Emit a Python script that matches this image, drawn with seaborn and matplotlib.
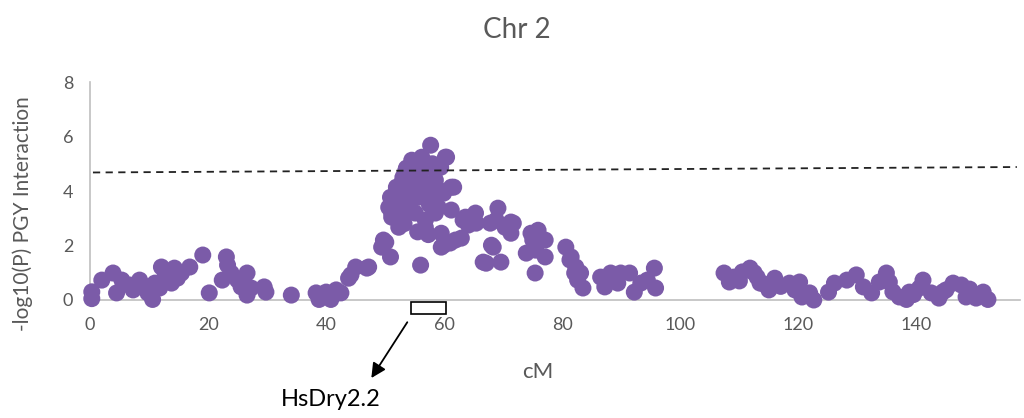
import matplotlib
matplotlib.use("Agg")
import matplotlib.pyplot as plt
from matplotlib.patches import Rectangle
import pandas as pd
import seaborn as sns

# ----------------------------
# Data (cM, -log10(P))
# ----------------------------
cm_left = [0.3, 0.3, 2.0, 3.9, 4.5, 5.4, 6.7, 7.3, 8.4, 9.3, 9.8, 10.6, 11.0, 11.8,
           12.1, 12.6, 13.5, 13.8, 14.3, 14.8, 15.5, 16.9, 19.1, 20.2, 22.4, 23.1,
           23.3, 23.9, 25.0, 25.6, 26.6, 26.6, 27.3, 29.5, 29.8, 34.1, 38.3, 38.8,
           40.0, 40.8, 41.7, 42.5, 43.8, 44.2, 45.0, 46.9, 47.2]
lod_left = [0.05, 0.3, 0.73, 0.99, 0.26, 0.73, 0.55, 0.37, 0.73, 0.48, 0.26, 0.02, 0.62, 0.44,
            1.21, 0.8, 0.99, 0.62, 1.17, 0.8, 0.99, 1.21, 1.65, 0.26, 0.73, 1.58,
            1.28, 0.99, 0.73, 0.48, 0.99, 0.18, 0.44, 0.48, 0.29, 0.18, 0.26, 0.02,
            0.29, 0.02, 0.37, 0.26, 0.8, 0.92, 1.21, 1.17, 1.21]

cm_peak = [49.4, 49.7, 50.1, 50.6, 50.9, 50.9, 51.1, 51.1, 51.8, 51.9, 52.3, 52.8, 52.8,
           53.5, 53.5, 53.6, 54.5, 54.5, 55.1, 55.1, 55.6, 56.0, 56.2, 56.8, 56.8, 56.8,
           57.0, 57.7, 57.8, 58.5, 58.5, 59.0, 59.4, 59.5, 59.5, 59.9, 59.9, 60.2, 60.4,
           61.0, 61.2, 61.2, 61.6, 61.9, 62.9, 63.2, 63.6, 64.1, 65.3, 65.4, 66.6, 67.1,
           67.8, 68.0, 68.3, 68.8, 69.1, 69.6, 70.3, 71.3, 71.3, 71.7, 73.9, 74.7, 75.0,
           75.4, 75.5, 75.9, 77.1, 77.1,
           53.0, 55.8, 58.0, 54.0, 57.5, 52.0, 56.2, 58.8, 53.2, 55.5, 57.3]
lod_peak = [1.94, 2.2, 2.12, 3.4, 1.58, 3.77, 3.04, 3.19, 3.66, 4.14, 2.67, 4.29, 3.04,
            4.76, 3.77, 4.84, 5.13, 4.14, 4.65, 3.19, 3.77, 1.28, 5.24, 4.29, 2.93, 2.67,
            4.87, 5.68, 3.77, 4.4, 3.19, 3.4, 4.87, 2.45, 1.94, 3.92, 2.01, 5.24, 5.24,
            2.09, 4.14, 3.3, 4.14, 2.2, 2.27, 2.93, 3.04, 2.75, 3.19, 2.82, 1.39, 1.35,
            2.82, 2.01, 1.94, 2.93, 3.37, 1.39, 2.67, 2.86, 2.45, 2.82, 1.72, 2.45, 2.2,
            0.99, 1.83, 2.56, 1.58, 2.2,
            4.5, 4.9, 5.0, 3.5, 3.5, 3.3, 4.0, 4.1, 2.8, 2.5, 2.4]

cm_right = [80.6, 81.3, 81.5, 82.1, 82.3, 82.6, 83.1, 83.5, 86.5, 87.2, 88.2, 89.4, 89.9,
            91.4, 92.2, 93.3, 94.4, 95.6, 95.8, 107.4, 108.3, 109.1, 110.5, 111.8, 113.0,
            113.5, 115.0, 115.9, 116.0, 118.5, 119.4, 120.2, 120.6, 121.9, 122.6, 125.1,
            126.1, 128.2, 129.8, 131.0, 132.4, 133.7, 134.9, 135.4, 137.1, 138.3, 138.8,
            140.5, 141.1, 142.5, 143.8, 145.0, 146.2, 147.6, 148.4, 150.1, 151.3, 152.1,
            110.0, 112.5, 114.0, 117.0, 136.0, 139.5, 144.5, 149.0]
lod_right = [1.94, 1.47, 1.58, 0.99, 1.21, 0.73, 0.99, 0.44, 0.84, 0.48, 0.99, 0.62, 0.99,
             0.99, 0.29, 0.62, 0.73, 1.17, 0.44, 0.99, 0.66, 0.84, 1.03, 1.17, 0.84,
             0.62, 0.37, 0.62, 0.8, 0.62, 0.37, 0.66, 0.11, 0.26, 0.0, 0.29,
             0.62, 0.73, 0.92, 0.48, 0.26, 0.66, 0.99, 0.66, 0.11, 0.02, 0.29,
             0.44, 0.73, 0.26, 0.07, 0.37, 0.62, 0.55, 0.11, 0.07, 0.29, 0.02,
             0.7, 1.0, 0.6, 0.5, 0.3, 0.2, 0.3, 0.4]

# significance threshold (slightly sloped in the original)
threshold_cm = [0.5, 157.0]
threshold_lod = [4.68, 4.88]

# QTL interval box
qtl_start, qtl_end = 54.3, 60.3
qtl_name = "HsDry2.2"

x_ticks = [0, 20, 40, 60, 80, 100, 120, 140]
y_ticks = [0, 2, 4, 6, 8]

df = pd.DataFrame({
    "cM": cm_left + cm_peak + cm_right,
    "lod": lod_left + lod_peak + lod_right,
})

# ----------------------------
# Plot
# ----------------------------
sns.set_style("white")
plt.rcParams["font.family"] = ["Lato", "DejaVu Sans"]

grey = "#595959"
purple = "#7B5BA8"

fig = plt.figure(figsize=(10.24, 4.18), dpi=100)
ax = fig.add_axes([0.0879, 0.2823, 0.908, 0.5215])

sns.scatterplot(data=df, x="cM", y="lod", ax=ax, color=purple, s=150,
                edgecolor="none", linewidth=0, legend=False, clip_on=False, zorder=3)

ax.plot(threshold_cm, threshold_lod, color="#222222", lw=1.3, ls=(0, (4, 3)),
        zorder=4)

ax.set_xlim(0, 157.5)
ax.set_ylim(0, 8)
ax.set_xticks(x_ticks)
ax.set_yticks(y_ticks)
ax.tick_params(axis="both", length=0, labelsize=13, colors=grey)
ax.tick_params(axis="x", pad=12)
ax.tick_params(axis="y", pad=12)
ax.set_xlabel("")
ax.set_ylabel("")

for side in ["top", "right"]:
    ax.spines[side].set_visible(False)
for side in ["left", "bottom"]:
    ax.spines[side].set_color("#BFBFBF")
    ax.spines[side].set_linewidth(1.2)

# QTL box and arrow below the axis
ax.add_patch(Rectangle((qtl_start, -0.51), qtl_end - qtl_start, 0.44,
                       facecolor="white", edgecolor="black", lw=1.2,
                       clip_on=False, zorder=5))
ax.annotate(qtl_name, xy=(47.6, -2.86), xytext=(40.8, -3.66),
            ha="center", va="center", fontsize=17, color="black",
            annotation_clip=False)
ax.annotate("", xy=(47.4, -2.95), xytext=(54.0, -0.73),
            arrowprops=dict(arrowstyle="-|>", color="black", lw=1.3,
                            mutation_scale=22),
            annotation_clip=False)

fig.text(0.505, 0.928, "Chr 2", ha="center", va="center", fontsize=20, color=grey)
fig.text(0.525, 0.11, "cM", ha="center", va="center", fontsize=16, color=grey)
fig.text(0.022, 0.49, "-log10(P) PGY Interaction", ha="center", va="center",
         rotation=90, fontsize=15, color=grey)

plt.savefig("out.png", dpi=100)
